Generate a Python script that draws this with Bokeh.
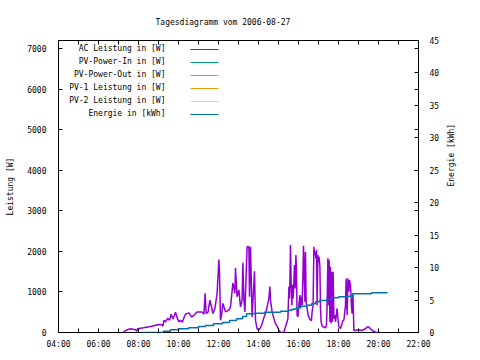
import math
from bokeh.plotting import figure
from bokeh.models import Range1d, LinearAxis, FixedTicker, Label, BoxAnnotation
from bokeh.embed import file_html
from bokeh.resources import INLINE

title_text = "Tagesdiagramm vom 2006-08-27"
y_label = "Leistung [W]"
y2_label = "Energie [kWh]"
series_names = ["AC Leistung in [W]", "PV-Power-In in [W]", "PV-Power-Out in [W]",
                "PV-1 Leistung in [W]", "PV-2 Leistung in [W]", "Energie in [kWh]"]
series_colors = ["#9400d3", "#009e73", "#56b4e9", "#e69f00", "#f0e442", "#0072b2"]

x_major = [4, 6, 8, 10, 12, 14, 16, 18, 20, 22]
x_minor = [5, 7, 9, 11, 13, 15, 17, 19, 21]
x_tick_labels = {h: f"{h:02d}:00" for h in x_major}
y_ticks = [0, 1000, 2000, 3000, 4000, 5000, 6000, 7000]
y2_ticks = [0, 5, 10, 15, 20, 25, 30, 35, 40, 45]
x_min, x_max = 4, 22
y_max = 7200
y2_max = 45

ac_hours = [7.22, 7.35, 7.6, 7.85, 7.93, 7.95, 8.25, 8.6, 8.95, 9.2, 9.22, 9.27, 9.35, 9.45, 9.55,
            9.63, 9.73, 9.85, 9.93, 10.02, 10.1, 10.2, 10.3, 10.35, 10.52, 10.65, 10.77, 10.93,
            11.18, 11.27, 11.33, 11.38, 11.48, 11.57, 11.65, 11.72, 11.82, 11.93, 12.02, 12.05,
            12.1, 12.15, 12.22, 12.35, 12.52, 12.6, 12.72, 12.82, 12.85, 12.93, 13.02, 13.1,
            13.18, 13.22, 13.27, 13.32, 13.43, 13.52, 13.55, 13.6, 13.63, 13.68, 13.8, 13.85,
            13.93, 14.02, 14.1, 14.18, 14.27, 14.35, 14.43, 14.52, 14.57, 14.6, 14.68, 14.77,
            14.85, 14.93, 15.02,
            15.1, 15.27, 15.3, 15.35, 15.43, 15.47, 15.52, 15.55, 15.57, 15.6, 15.63, 15.67,
            15.7, 15.73, 15.77, 15.8, 15.83, 15.87, 15.9, 15.93, 15.97, 16.02, 16.07, 16.1,
            16.13, 16.18, 16.22, 16.25, 16.28, 16.32, 16.35, 16.38, 16.43, 16.48, 16.55, 16.6,
            16.65, 16.68, 16.73, 16.77, 16.8, 16.83, 16.87, 16.9, 16.93, 16.97, 17.0, 17.03,
            17.07, 17.1, 17.13, 17.17, 17.2, 17.27, 17.35, 17.4, 17.43, 17.47, 17.5, 17.53,
            17.57, 17.6, 17.63, 17.67, 17.7, 17.73, 17.77, 17.82, 17.85, 17.93, 17.97, 18.02,
            18.1, 18.18, 18.23, 18.27, 18.35, 18.38, 18.43, 18.47, 18.52, 18.55, 18.6,
            18.65, 18.68, 18.72, 18.77, 19.02, 19.18, 19.35, 19.43, 19.52, 19.6, 19.68, 19.77,
            19.85, 20.02]
ac_watts = [0, 50, 92, 67, 33, 92, 117, 150, 192, 192, 150, 300, 257, 350, 300,
            450, 333, 500, 367, 257, 300, 257, 400, 450, 483, 383, 425, 508,
            508, 450, 967, 467, 508, 800, 633, 467, 592, 967, 1800, 1467,
            300, 425, 717, 508, 550, 633, 1217, 967, 1592, 883, 1050, 633,
            800, 1717, 800, 508, 2117, 2117, 883, 2117, 1467, 383, 1508, 300,
            92, 67, 117, 217, 367, 467, 633, 842, 1133, 800, 508, 342,
            217, 150, 67,
            0, 0, 57, 140, 263, 346, 1128, 840, 1251, 2157, 1251, 675,
            1169, 840, 1251, 1663, 1087, 1910, 1498, 428, 387, 675, 922, 593,
            881, 675, 1334, 2141, 1663, 757, 1992, 757, 593, 428, 346, 305,
            305, 510, 675, 2116, 1910, 1992, 1828, 2034, 675, 1910, 1745, 1869,
            1622, 593, 263, 181, 140, 140, 115, 181, 675, 1828, 675, 1787,
            263, 1622, 222, 1498, 263, 1500, 346, 428, 263, 593, 346, 140,
            99, 222, 305, 305, 675, 1334, 428, 1334, 1005, 1292, 1169,
            633, 467, 967, 50, 67, 50, 92, 133, 133, 92, 50, 33,
            8, 0]

pv_in_hours, pv_in_watts = [], []
pv_out_hours, pv_out_watts = [], []
pv1_hours, pv1_watts = [], []
pv2_hours, pv2_watts = [], []

energy_hours = [8.17, 9.25, 9.6, 10.0, 10.5, 11.0, 11.35, 11.75, 12.2, 12.55, 12.9, 13.2, 13.4,
                13.8, 14.3, 15.1, 15.5, 15.68, 15.85, 16.0, 16.15, 16.4, 16.65, 16.85, 17.05,
                17.4, 17.65, 18.0, 18.4, 18.7, 19.65, 20.45]
energy_kwh = [0.0, 0.2, 0.42, 0.57, 0.72, 0.92, 1.08, 1.34, 1.54, 1.85, 2.11, 2.47, 2.88,
              2.97, 3.13, 3.28, 3.44, 3.59, 3.70, 3.96, 4.05, 4.21, 4.42, 4.73, 4.93,
              5.08, 5.35, 5.5, 5.6, 5.96, 6.11, 6.11]

FONT = "DejaVu Sans Mono"
FS = "8px"

p = figure(width=476, height=352, output_backend="svg", toolbar_location=None,
           x_range=Range1d(x_min, x_max), y_range=Range1d(0, y_max),
           min_border_left=58, min_border_right=58, min_border_top=40, min_border_bottom=20,
           background_fill_color="white", border_fill_color="white")
p.extra_y_ranges = {"energy": Range1d(0, y2_max)}
p.xgrid.visible = False
p.ygrid.visible = False
p.outline_line_color = "black"
p.outline_line_width = 1
p.outline_line_alpha = 1

p.title.text = title_text
p.title.align = "left"
p.title.offset = 97
p.title.text_font = FONT
p.title.text_font_size = FS
p.title.text_font_style = "normal"
p.title.text_color = "black"
p.title.standoff = 27

def style_axis(ax):
    ax.axis_line_color = None
    ax.major_tick_in = 4
    ax.major_tick_out = 0
    ax.minor_tick_in = 4
    ax.minor_tick_out = 0
    ax.major_tick_line_color = "black"
    ax.minor_tick_line_color = "black"
    ax.major_label_text_font = FONT
    ax.major_label_text_font_size = FS
    ax.major_label_text_color = "black"
    ax.axis_label_text_font = FONT
    ax.axis_label_text_font_size = FS
    ax.axis_label_text_font_style = "normal"
    ax.axis_label_text_color = "black"

xa = p.xaxis[0]
xa.ticker = FixedTicker(ticks=x_major, minor_ticks=x_minor)
xa.major_label_overrides = x_tick_labels
style_axis(xa)
xa.major_label_standoff = 7

ya = p.yaxis[0]
ya.ticker = FixedTicker(ticks=y_ticks)
ya.axis_label = y_label
style_axis(ya)
ya.major_label_standoff = 12
ya.axis_label_standoff = 9

y2 = LinearAxis(y_range_name="energy", axis_label=y2_label,
                ticker=FixedTicker(ticks=y2_ticks, minor_ticks=[w * y2_max / y_max for w in y_ticks]))
style_axis(y2)
y2.major_label_standoff = 11
y2.axis_label_standoff = 9
y2.axis_label_orientation = math.pi / 2
p.add_layout(y2, "right")

xt = LinearAxis(ticker=FixedTicker(ticks=[], minor_ticks=x_major + x_minor))
style_axis(xt)
xt.major_label_standoff = 0
p.add_layout(xt, "above")

series = [(ac_hours, ac_watts), (pv_in_hours, pv_in_watts), (pv_out_hours, pv_out_watts),
          (pv1_hours, pv1_watts), (pv2_hours, pv2_watts)]
for (xs, ys), col in zip(series, series_colors[:5]):
    p.line(xs, ys, line_color=col, line_width=1.5)
p.step(energy_hours, energy_kwh, mode="after", line_color=series_colors[5], line_width=1.5,
       y_range_name="energy")

# legend (gnuplot style: right-aligned text, sample line after)
for i, (name, col) in enumerate(zip(series_names, series_colors)):
    sy = 284 - 13 * i
    p.add_layout(Label(x=107, y=sy, x_units="screen", y_units="screen", text=name,
                       text_align="right", text_baseline="middle", text_font=FONT,
                       text_font_size=FS, text_color="black"))
    p.add_layout(BoxAnnotation(left=132, right=160, bottom=sy - 1.5, top=sy - 0.5,
                               left_units="screen", right_units="screen",
                               top_units="screen", bottom_units="screen",
                               fill_color=col, fill_alpha=1, line_color=None))

open("out.html", "w").write(file_html(p, INLINE))
